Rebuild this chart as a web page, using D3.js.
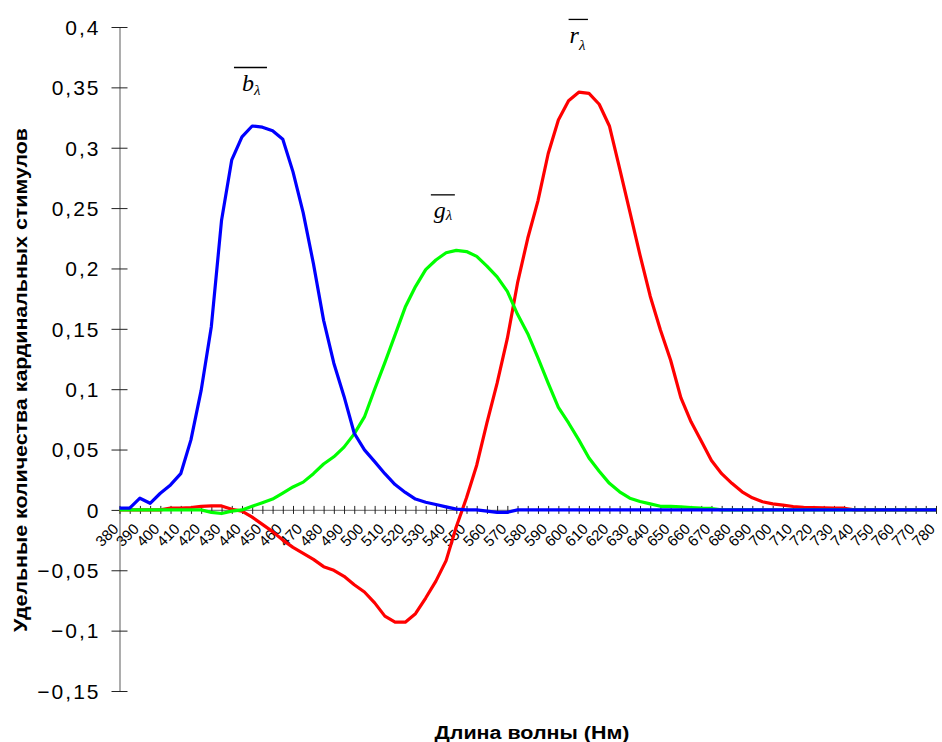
<!DOCTYPE html>
<html>
<head>
<meta charset="utf-8">
<script src="https://cdn.jsdelivr.net/npm/d3@7"></script>
<style>
  html, body { margin: 0; padding: 0; background: #fff; }
  svg { display: block; }
</style>
</head>
<body>
<svg id="chart" width="942" height="742"></svg>
<script>
// ---- data (CIE 1931 r, g, b colour matching functions) ----
const wavelengths = [380,385,390,395,400,405,410,415,420,425,430,435,440,445,450,455,460,465,470,475,
  480,485,490,495,500,505,510,515,520,525,530,535,540,545,550,555,560,565,570,575,
  580,585,590,595,600,605,610,615,620,625,630,635,640,645,650,655,660,665,670,675,
  680,685,690,695,700,705,710,715,720,725,730,735,740,745,750,755,760,765,770,775,780];

const rValues = [0,0,0,0,0,0.0015,0.0015,0.002,0.003,0.0033,0.0033,0.0005,-0.001,-0.006,-0.012,-0.018,-0.025,-0.031,-0.036,-0.041,
  -0.047,-0.050,-0.055,-0.062,-0.068,-0.077,-0.088,-0.093,-0.093,-0.086,-0.073,-0.059,-0.042,-0.014,0.010,0.037,0.072,0.105,0.142,0.188,
  0.225,0.256,0.295,0.323,0.339,0.346,0.345,0.336,0.318,0.283,0.247,0.211,0.177,0.149,0.124,0.093,0.073,0.057,0.041,0.030,
  0.022,0.015,0.010,0.0068,0.005,0.004,0.0028,0.0022,0.002,0.0018,0.0015,0.0014,0,0,0,0,0,0,0,0,0];

const gValues = [0,0,0,0,0,0,0,0,0,-0.002,-0.003,-0.001,0,0.003,0.006,0.009,0.014,0.019,0.023,0.030,
  0.038,0.044,0.052,0.063,0.077,0.100,0.122,0.145,0.168,0.185,0.199,0.207,0.213,0.215,0.214,0.210,0.202,0.193,0.181,0.162,
  0.146,0.126,0.105,0.085,0.072,0.058,0.043,0.032,0.022,0.015,0.0097,0.007,0.005,0.003,0.003,0.0025,0.002,0.0015,0.0012,0,
  0,0,0,0,0,0,0,0,0,0,0,0,0,0,0,0,0,0,0,0,0];

const bValues = [0.0014,0.0014,0.0097,0.0055,0.0138,0.0207,0.030,0.058,0.099,0.152,0.240,0.290,0.309,0.318,0.317,0.314,0.307,0.280,0.246,0.204,
  0.157,0.1215,0.094,0.0635,0.0497,0.040,0.030,0.021,0.0145,0.009,0.0063,0.0045,0.0025,0.0006,0,0,-0.001,-0.002,-0.002,0,
  0,0,0,0,0,0,0,0,0,0,0,0,0,0,0,0,0,0,0,0,
  0,0,0,0,0,0,0,0,0,0,0,0,0,0,0,0,0,0,0,0,0];

const xTickLabels = [380,390,400,410,420,430,440,450,460,470,480,490,500,510,520,530,540,550,560,570,
  580,590,600,610,620,630,640,650,660,670,680,690,700,710,720,730,740,750,760,770,780];
const yTickValues = [-0.15,-0.1,-0.05,0,0.05,0.1,0.15,0.2,0.25,0.3,0.35,0.4];

const seriesNames = ["r", "g", "b"];
const seriesColors = ["#FF0000", "#00FF00", "#0000FF"];
const yTitle = "Удельные количества кардинальных стимулов";
const xTitle = "Длина волны (Нм)";

// ---- drawing ----
const svg = d3.select("#chart");
const x = d3.scaleLinear().domain([380, 780]).range([119.5, 936]);
const y = d3.scaleLinear().domain([-0.15, 0.4]).range([691, 27]);

const fmt = v => (v === 0 ? "0" : d3.format("")(+v.toFixed(2)).replace(".", ","));

// Y axis
const yAxis = d3.axisLeft(y).tickValues(yTickValues).tickSize(0).tickFormat(fmt);
const gy = svg.append("g").attr("transform", `translate(${x(380)},0)`).call(yAxis);
gy.select(".domain").attr("stroke", "#808080").attr("stroke-width", 1.3);
gy.selectAll(".tick line").remove();
gy.selectAll(".tick").append("line").attr("x1", -8).attr("x2", 8).attr("stroke", "#222").attr("stroke-width", 1);
gy.selectAll(".tick text")
  .attr("x", -19)
  .attr("dy", "0.35em")
  .attr("fill", "#000")
  .style("font-family", "Arial, 'Liberation Sans', sans-serif")
  .style("font-size", "21px")
  .style("letter-spacing", "2px");

// X axis (crosses at zero)
const xAxis = d3.axisBottom(x).tickValues(wavelengths).tickSize(0).tickFormat("");
const gx = svg.append("g").attr("transform", `translate(0,${y(0)})`).call(xAxis);
gx.select(".domain").attr("stroke", "#808080").attr("stroke-width", 1.3);
gx.selectAll(".tick line").remove();
gx.selectAll(".tick").append("line").attr("y1", -4).attr("y2", 4).attr("stroke", "#222").attr("stroke-width", 1);

const xl = svg.append("g");
xl.selectAll("text").data(xTickLabels).join("text")
  .attr("transform", d => `translate(${x(d)},${y(0) + 20}) rotate(-45)`)
  .attr("text-anchor", "end")
  .style("font-family", "Arial, 'Liberation Sans', sans-serif")
  .style("font-size", "15px")
  .attr("fill", "#000")
  .text(d => d);

// Lines
const line = d3.line().x((d, i) => x(wavelengths[i])).y(d => y(d));
const allSeries = [rValues, gValues, bValues];
svg.append("g").selectAll("path").data(allSeries).join("path")
  .attr("d", d => line(d))
  .attr("fill", "none")
  .attr("stroke", (d, i) => seriesColors[i])
  .attr("stroke-width", 3.2)
  .attr("stroke-linejoin", "round");

// Annotations (overlined italic symbols with lambda subscript)
const annos = [
  { name: "b", nm: 440, v: 0.347, sub: 4, ol: [-8, 6] },
  { name: "g", nm: 534, v: 0.2415, sub: 2, ol: [-3, 2] },
  { name: "r", nm: 600.5, v: 0.3868, sub: 7, ol: [-1, 2] }
];
annos.forEach(a => {
  const ax = x(a.nm), ay = y(a.v);
  const t = svg.append("text")
    .attr("x", ax).attr("y", ay)
    .style("font-family", "'Liberation Serif', 'Times New Roman', serif")
    .style("font-style", "italic")
    .attr("fill", "#000");
  t.append("tspan").style("font-size", "24px").text(a.name);
  t.append("tspan").style("font-size", "15px").attr("dy", a.sub).text("λ");
  const bb = t.node().getBBox();
  svg.append("line")
    .attr("x1", bb.x + a.ol[0]).attr("x2", bb.x + bb.width + a.ol[1])
    .attr("y1", ay - 23.5).attr("y2", ay - 23.5)
    .attr("stroke", "#000").attr("stroke-width", 1.3);
});

// Axis titles
svg.append("text")
  .attr("transform", `translate(27,380) rotate(-90)`)
  .attr("text-anchor", "middle")
  .attr("textLength", 504)
  .attr("lengthAdjust", "spacingAndGlyphs")
  .style("font-family", "Arial, 'Liberation Sans', sans-serif")
  .style("font-weight", "bold")
  .style("font-size", "19px")
  .text(yTitle);

svg.append("text")
  .attr("x", 532).attr("y", 739)
  .attr("text-anchor", "middle")
  .attr("textLength", 195)
  .attr("lengthAdjust", "spacingAndGlyphs")
  .style("font-family", "Arial, 'Liberation Sans', sans-serif")
  .style("font-weight", "bold")
  .style("font-size", "18px")
  .text(xTitle);
</script>
</body>
</html>
